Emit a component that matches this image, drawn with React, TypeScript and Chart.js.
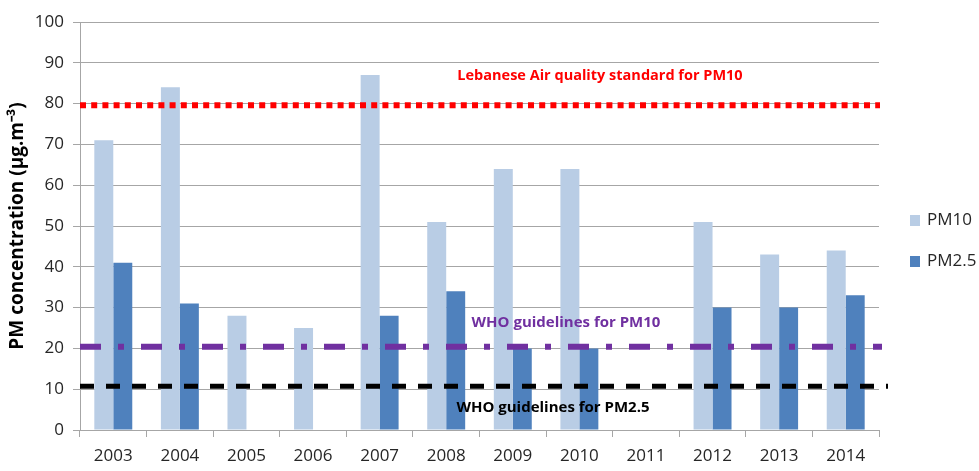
import React, { useEffect, useRef } from "react";
import { Chart, registerables } from "chart.js";

Chart.register(...registerables);

const YEARS = ["2003", "2004", "2005", "2006", "2007", "2008", "2009", "2010", "2011", "2012", "2013", "2014"];
const PM10 = [71, 84, 28, 25, 87, 51, 64, 64, null, 51, 43, 44];
const PM25 = [41, 31, null, null, 28, 34, 20, 20, null, 30, 30, 33];
const LEBANESE_STD_PM10 = 79.6;
const WHO_PM10 = 20.4;
const WHO_PM25 = 10.7;
const LABEL_LEBANESE = "Lebanese Air quality standard for PM10";
const LABEL_WHO_PM10 = "WHO guidelines for PM10";
const LABEL_WHO_PM25 = "WHO guidelines for PM2.5";
const Y_TITLE = "PM concentration (\u00b5g.m\u207b\u00b3)";

const C_PM10 = "#B9CDE5";
const C_PM25 = "#4F81BD";
const GRID = "#A6A6A6";
const FONT = "'Open Sans', 'Liberation Sans', sans-serif";

const overlay = {
  id: "overlay",
  afterDatasetsDraw(chart: any) {
    const ctx = chart.ctx;
    const area = chart.chartArea;
    const y = chart.scales.y;
    const line = (v: number, color: string, w: number, dash: number[], extra: number) => {
      ctx.save();
      ctx.strokeStyle = color;
      ctx.lineWidth = w;
      ctx.setLineDash(dash);
      ctx.lineCap = "butt";
      const py = y.getPixelForValue(v);
      ctx.beginPath();
      ctx.moveTo(area.left, py);
      ctx.lineTo(area.right + extra, py);
      ctx.stroke();
      ctx.restore();
    };
    line(LEBANESE_STD_PM10, "#FF0000", 6, [6, 5.2], 1);
    line(WHO_PM10, "#7030A0", 6, [21, 17, 6, 17], 3);
    line(WHO_PM25, "#000000", 5, [14, 12], 9);

    const text = (t: string, x: number, py: number, color: string, size: number) => {
      ctx.save();
      ctx.fillStyle = color;
      ctx.font = `bold ${size}px ${FONT}`;
      ctx.textAlign = "center";
      ctx.textBaseline = "middle";
      ctx.fillText(t, x, py);
      ctx.restore();
    };
    text(LABEL_LEBANESE, 600, 76, "#FF0000", 14.5);
    text(LABEL_WHO_PM10, 566, 323, "#7030A0", 15);
    text(LABEL_WHO_PM25, 553, 408, "#000000", 15);
  },
  afterDraw(chart: any) {
    const ctx = chart.ctx;
    ctx.save();
    ctx.translate(18, (chart.chartArea.top + chart.chartArea.bottom) / 2);
    ctx.rotate(-Math.PI / 2);
    ctx.font = `bold 19px ${FONT}`;
    ctx.fillStyle = "#000";
    ctx.textAlign = "center";
    ctx.textBaseline = "middle";
    ctx.fillText(Y_TITLE, 0, 0);
    ctx.restore();
    const items = [
      { label: chart.data.datasets[0].label, color: C_PM10, y: 220 },
      { label: chart.data.datasets[1].label, color: C_PM25, y: 261 },
    ];
    ctx.save();
    ctx.font = `17px ${FONT}`;
    ctx.textBaseline = "middle";
    ctx.textAlign = "left";
    for (const it of items) {
      ctx.fillStyle = it.color;
      ctx.fillRect(910, it.y - 5, 10, 11);
      ctx.fillStyle = "#262626";
      ctx.fillText(it.label, 927, it.y);
    }
    ctx.restore();
  },
};

export default function App() {
  const ref = useRef<HTMLCanvasElement>(null);
  useEffect(() => {
    if (!ref.current) return;
    const chart = new Chart(ref.current, {
      type: "bar",
      data: {
        labels: YEARS,
        datasets: [
          { label: "PM10", data: PM10 as any, backgroundColor: C_PM10, borderWidth: 0 },
          { label: "PM2.5", data: PM25 as any, backgroundColor: C_PM25, borderWidth: 0 },
        ],
      },
      options: {
        responsive: false,
        animation: false,
        layout: { padding: { top: 22, right: 100, left: 0, bottom: 0 } },
        datasets: { bar: { barPercentage: 1, categoryPercentage: 0.57 } },
        plugins: { legend: { display: false }, tooltip: { enabled: false } },
        scales: {
          x: {
            afterFit: (s: any) => { s.height = 41; },
            grid: { display: true, drawOnChartArea: false, tickLength: 7, color: GRID },
            border: { display: true, color: GRID },
            ticks: { font: { family: FONT, size: 17 }, color: "#262626", padding: 9 },
          },
          y: {
            min: 0,
            max: 100,
            afterFit: (s: any) => { s.width = 80; },
            grid: { color: GRID, tickLength: 7 },
            border: { display: true, color: GRID },
            ticks: { stepSize: 10, font: { family: FONT, size: 17 }, color: "#262626", padding: 9 },
          },
        },
      },
      plugins: [overlay],
    });
    return () => chart.destroy();
  }, []);
  return (
    <div style={{ position: "absolute", left: 0, top: 0, width: 979, height: 471, background: "#fff" }}>
      <canvas ref={ref} width={979} height={471} style={{ display: "block" }} />
    </div>
  );
}
